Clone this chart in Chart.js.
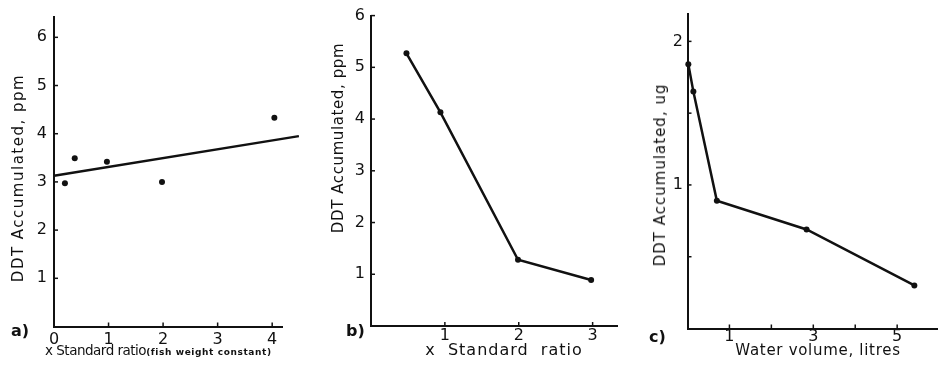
<!DOCTYPE html>
<html>
<head>
<meta charset="utf-8">
<title>DDT accumulated</title>
<script src="https://cdn.jsdelivr.net/npm/chart.js@4.4.1/dist/chart.umd.min.js"></script>
<style>
  body { margin: 0; background: #fff; }
  #wrap { position: relative; width: 942px; height: 374px; overflow: hidden; font-family: 'DejaVu Sans', sans-serif; color: #111; }
  canvas { position: absolute; left: 0; top: 0; }
  .t { position: absolute; white-space: nowrap; transform: translate(-50%, -50%); font-size: 15px; }
  .v { transform: translate(-50%, -50%) rotate(-90deg); }
  .lbl { font-weight: bold; font-size: 16px; }
  .small { font-size: 9px; font-weight: bold; letter-spacing: 0.6px; }
</style>
</head>
<body>
<div id="wrap">
  <canvas id="chartA" width="942" height="374"></canvas>
  <canvas id="chartB" width="942" height="374"></canvas>
  <canvas id="chartC" width="942" height="374"></canvas>

  <div class="t v" style="left:17.5px; top:178px; font-size:15px; letter-spacing:1.5px;">DDT Accumulated, ppm</div>
  <div class="t v" style="left:337.5px; top:137.5px; font-size:15px; letter-spacing:0.6px;">DDT Accumulated, ppm</div>
  <div class="t v" style="left:659.5px; top:175px; font-size:15px; letter-spacing:1px;">DDT Accumulated, ug</div>

  <div class="t" style="left:45px; top:350px; transform:translate(0,-50%); font-size:13.5px; letter-spacing:-0.5px;">x Standard ratio<span class="small">(fish weight constant)</span></div>
  <div class="t" style="left:504px; top:349px; font-size:16px; letter-spacing:1px;">x&nbsp; Standard&nbsp; ratio</div>
  <div class="t" style="left:818px; top:350px; font-size:15px; letter-spacing:0.7px;">Water volume, litres</div>

  <div class="t lbl" style="left:20px; top:330px;">a)</div>
  <div class="t lbl" style="left:355.5px; top:330px;">b)</div>
  <div class="t lbl" style="left:657.5px; top:335.5px;">c)</div>
</div>
<script>
// a) DDT accumulated vs x standard ratio (fish weight constant)
const ratioA = [0.2, 0.38, 0.97, 1.98, 4.04];
const ddtA = [2.97, 3.49, 3.42, 3.0, 4.33];
const fitRatioA = [0, 4.49];
const fitDdtA = [3.13, 3.95];
const xLabelsA = [0, 1, 2, 3, 4];
const yLabelsA = [1, 2, 3, 4, 5, 6];

// b) DDT accumulated vs x standard ratio
const ratioB = [0.48, 0.94, 1.99, 2.98];
const ddtB = [5.27, 4.13, 1.28, 0.89];
const xLabelsB = [1, 2, 3];
const yLabelsB = [1, 2, 3, 4, 5, 6];

// c) DDT accumulated (ug) vs water volume
const volumeC = [0.02, 0.14, 0.70, 2.84, 5.41];
const ddtC = [1.84, 1.65, 0.89, 0.69, 0.30];
const xLabelsC = [1, 3, 5];
const yLabelsC = [1, 2];

const INK = '#111';
const FONT = { family: 'DejaVu Sans', size: 16 };

const pts = (xs, ys) => xs.map((x, i) => ({ x: x, y: ys[i] }));

// short tick marks pointing into the plot
const inwardTicks = {
  id: 'inwardTicks',
  afterDraw(chart) {
    const { ctx, chartArea, scales } = chart;
    ctx.save();
    ctx.strokeStyle = INK;
    ctx.lineWidth = 1.5;
    scales.x.ticks.forEach(t => {
      if (t.value === 0) return;
      const px = scales.x.getPixelForValue(t.value);
      ctx.beginPath();
      ctx.moveTo(px, chartArea.bottom);
      ctx.lineTo(px, chartArea.bottom - 4);
      ctx.stroke();
    });
    scales.y.ticks.forEach(t => {
      if (t.value === 0) return;
      const py = scales.y.getPixelForValue(t.value);
      ctx.beginPath();
      ctx.moveTo(chartArea.left, py);
      ctx.lineTo(chartArea.left + 4, py);
      ctx.stroke();
    });
    ctx.restore();
  }
};

function makePanel(id, box, datasets) {
  return new Chart(document.getElementById(id), {
    type: 'scatter',
    data: { datasets: datasets },
    options: {
      responsive: false,
      animation: false,
      events: [],
      layout: { padding: { left: box.left - 40, top: box.top, right: 942 - box.right, bottom: 374 - box.bottom - 30 } },
      plugins: { legend: { display: false }, tooltip: { enabled: false } },
      scales: {
        x: {
          type: 'linear', min: 0, max: box.xMax,
          grid: { display: false, drawTicks: false },
          border: { display: true, color: INK, width: 2 },
          afterFit: s => { s.height = 30; },
          ticks: {
            stepSize: box.xStep, includeBounds: false, autoSkip: false, maxRotation: 0,
            padding: box.xPad, color: INK, font: FONT,
            callback: v => box.xLabels.includes(v) ? String(v) : ''
          }
        },
        y: {
          type: 'linear', min: 0, max: box.yMax,
          grid: { display: false, drawTicks: false },
          border: { display: true, color: INK, width: 2 },
          afterFit: s => { s.width = 40; },
          ticks: {
            stepSize: box.yStep, includeBounds: false, autoSkip: false,
            padding: box.yPad, color: INK, font: FONT,
            callback: v => box.yLabels.includes(v) ? String(v) : ''
          }
        }
      }
    },
    plugins: [inwardTicks]
  });
}

const dotStyle = { pointRadius: 3, pointBackgroundColor: INK, pointBorderWidth: 0, borderColor: INK, borderWidth: 2.5 };

makePanel('chartA',
  { left: 54, top: 15, right: 282, bottom: 326.5, xMax: 4.18, yMax: 6.43, xStep: 1, yStep: 1,
    xLabels: xLabelsA, yLabels: yLabelsA, xPad: 4, yPad: 7 },
  [
    Object.assign({ data: pts(ratioA, ddtA), showLine: false }, dotStyle),
    { data: pts(fitRatioA, fitDdtA), showLine: true, pointRadius: 0, borderColor: INK, borderWidth: 2.5, clip: false }
  ]);

makePanel('chartB',
  { left: 371, top: 12, right: 617, bottom: 326, xMax: 3.33, yMax: 6, xStep: 1, yStep: 1,
    xLabels: xLabelsB, yLabels: yLabelsB, xPad: 0, yPad: 6 },
  [Object.assign({ data: pts(ratioB, ddtB), showLine: true, clip: false }, dotStyle)]);

makePanel('chartC',
  { left: 687.5, top: 12, right: 937, bottom: 328.5, xMax: 5.95, yMax: 2.19, xStep: 1, yStep: 0.5,
    xLabels: xLabelsC, yLabels: yLabelsC, xPad: -1, yPad: 4.5 },
  [Object.assign({ data: pts(volumeC, ddtC), showLine: true, clip: false }, dotStyle)]);
</script>
</body>
</html>
